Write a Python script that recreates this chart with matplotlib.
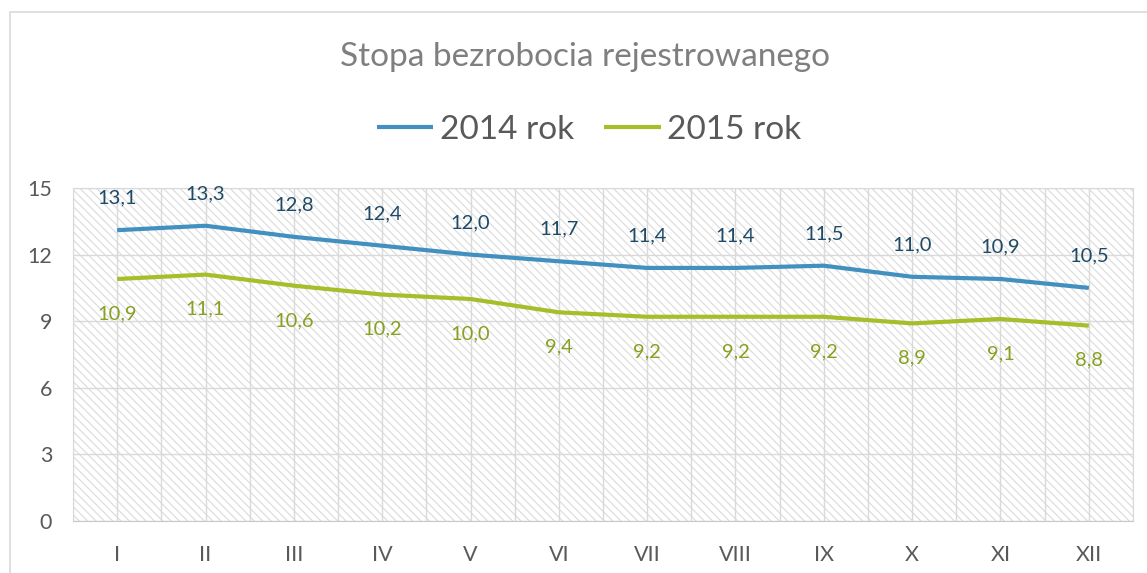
import numpy as np
import matplotlib
matplotlib.use('Agg')
import matplotlib.pyplot as plt
from matplotlib.patches import Rectangle

plt.rcParams['font.family'] = ['Lato', 'DejaVu Sans']
plt.rcParams['hatch.linewidth'] = 0.8

# Data
months = ['I', 'II', 'III', 'IV', 'V', 'VI', 'VII', 'VIII', 'IX', 'X', 'XI', 'XII']
rate_2014 = [13.1, 13.3, 12.8, 12.4, 12.0, 11.7, 11.4, 11.4, 11.5, 11.0, 10.9, 10.5]
rate_2015 = [10.9, 11.1, 10.6, 10.2, 10.0, 9.4, 9.2, 9.2, 9.2, 8.9, 9.1, 8.8]
yticks = [0, 3, 6, 9, 12, 15]

blue = '#4190C0'
green = '#A7BE2A'
blue_lbl = '#1F4A66'
green_lbl = '#86A020'
grid_col = '#D9D9D9'

fig = plt.figure(figsize=(11.47, 5.73), dpi=100)
ax = fig.add_axes([73 / 1147, 1 - 521 / 573, (1133 - 73) / 1147, (521 - 188) / 573])

# outer chart border (cropped at right/bottom)
fig.patches.append(Rectangle((10 / 1147, -0.2), 1.2, 1.2 - 12 / 573,
                             transform=fig.transFigure, fill=False,
                             edgecolor=grid_col, linewidth=1.2))

# hatched plot background
ax.add_patch(Rectangle((0, 0), 1, 1, transform=ax.transAxes, facecolor='white',
                       edgecolor='#DADADA', hatch='\\\\\\\\', linewidth=0, zorder=0))

x = np.arange(len(months))
ax.plot(x, rate_2014, color=blue, lw=3, label='2014 rok', zorder=3, solid_capstyle='butt')
ax.plot(x, rate_2015, color=green, lw=3, label='2015 rok', zorder=3, solid_capstyle='butt')

for xi, v in zip(x, rate_2014):
    ax.annotate(f'{v:.1f}'.replace('.', ','), (xi, v), xytext=(0, 23),
                textcoords='offset points', ha='center', va='center',
                fontsize=14.5, color=blue_lbl, zorder=4)
for xi, v in zip(x, rate_2015):
    ax.annotate(f'{v:.1f}'.replace('.', ','), (xi, v), xytext=(0, -25),
                textcoords='offset points', ha='center', va='center',
                fontsize=14.5, color=green_lbl, zorder=4)

ax.set_xlim(-0.5, 11.5)
ax.set_ylim(0, 15)
ax.set_xticks(x)
ax.set_xticklabels(months)
ax.set_xticks(np.arange(-0.5, 12, 1), minor=True)
ax.set_yticks(yticks)
ax.tick_params(axis='both', which='both', length=0, labelsize=15.5, labelcolor='#595959')
ax.tick_params(axis='x', pad=17)
ax.tick_params(axis='y', pad=15)
ax.grid(True, which='both', color=grid_col, lw=1, zorder=1)
ax.set_axisbelow(True)
for s in ax.spines.values():
    s.set_color(grid_col)
ax.spines['bottom'].set_color('#C8C8C8')

fig.text(585 / 1147, 1 - 57 / 573, 'Stopa bezrobocia rejestrowanego', ha='center',
         va='center', fontsize=24, color='#7F7F7F')
fig.legend(loc='center', bbox_to_anchor=(589 / 1147, 1 - 130 / 573), ncol=2,
           frameon=False, fontsize=24, labelcolor='#595959', handlelength=1.7,
           handletextpad=0.2, columnspacing=0.9)

fig.savefig('out.png', dpi=100)
